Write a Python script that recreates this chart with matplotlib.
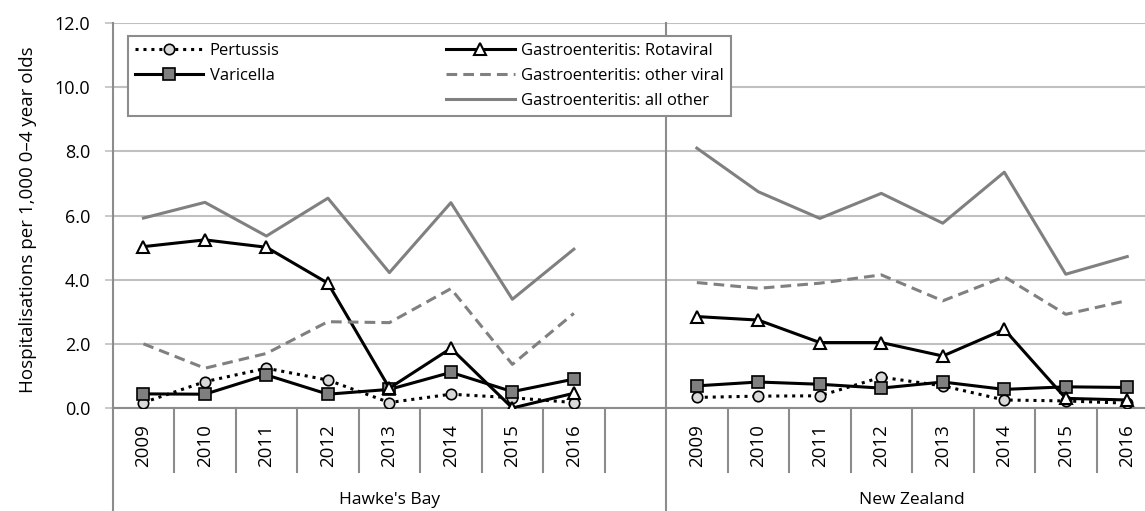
import matplotlib
matplotlib.use("Agg")
from matplotlib import pyplot
from matplotlib.lines import Line2D
import matplotlib.transforms as mtransforms
import numpy as np

pyplot.rcParams['font.family'] = ['Open Sans', 'DejaVu Sans']

# hospitalisation rates per 1,000 0-4 year olds, 2009-2016
years = ['2009', '2010', '2011', '2012', '2013', '2014', '2015', '2016']
regions = ["Hawke's Bay", 'New Zealand']

hb_pertussis = [0.17, 0.82, 1.24, 0.87, 0.17, 0.43, 0.32, 0.17]
hb_varicella = [0.44, 0.43, 1.03, 0.43, 0.58, 1.11, 0.51, 0.90]
hb_rotaviral = [5.03, 5.24, 5.01, 3.89, 0.62, 1.86, 0.00, 0.46]
hb_other_viral = [2.00, 1.24, 1.70, 2.69, 2.66, 3.72, 1.36, 2.95]
hb_all_other = [5.92, 6.41, 5.36, 6.54, 4.22, 6.40, 3.39, 4.95]

nz_pertussis = [0.33, 0.37, 0.38, 0.96, 0.69, 0.25, 0.22, 0.15]
nz_varicella = [0.69, 0.81, 0.74, 0.62, 0.81, 0.58, 0.66, 0.64]
nz_rotaviral = [2.85, 2.74, 2.04, 2.04, 1.62, 2.45, 0.30, 0.25]
nz_other_viral = [3.91, 3.73, 3.89, 4.15, 3.34, 4.09, 2.92, 3.35]
nz_all_other = [8.10, 6.74, 5.91, 6.69, 5.76, 7.35, 4.17, 4.72]

W, H = 1145, 511
fig = pyplot.figure(figsize=(W / 100, H / 100), dpi=100)
x0, x1, y0, y1 = 112.7, 1158.0, 408.0, 23.0
ax = fig.add_axes([x0 / W, 1 - y0 / H, (x1 - x0) / W, (y0 - y1) / H])

n = len(years)
hb_x = np.arange(n)
nz_x = np.arange(n) + n + 1

axis_grey = '#8c8c8c'
grid_grey = '#c0c0c0'
line_grey = '#808080'

series = [
    ('Pertussis', hb_pertussis, nz_pertussis,
     dict(color='black', ls=(0, (1, 1.6)), lw=2.2, marker='o', ms=7.5,
          mfc='#d9d9d9', mec='black', mew=1.2)),
    ('Varicella', hb_varicella, nz_varicella,
     dict(color='black', ls='-', lw=2.2, marker='s', ms=8,
          mfc='#7f7f7f', mec='black', mew=1.2)),
    ('Gastroenteritis: Rotaviral', hb_rotaviral, nz_rotaviral,
     dict(color='black', ls='-', lw=2.2, marker='^', ms=9,
          mfc='white', mec='black', mew=1.5)),
    ('Gastroenteritis: other viral', hb_other_viral, nz_other_viral,
     dict(color=line_grey, ls=(0, (3.5, 2)), lw=2.2, marker=None)),
    ('Gastroenteritis: all other', hb_all_other, nz_all_other,
     dict(color=line_grey, ls='-', lw=2.2, marker=None)),
]

handles = {}
order = [4, 3, 1, 0, 2]
for i in order:
    name, hb, nz, style = series[i]
    ax.plot(hb_x, hb, zorder=3 + i, **style)
    ln, = ax.plot(nz_x, nz, zorder=3 + i, **style)
    handles[name] = ln

ax.set_xlim(-0.5, 2 * n + 0.5)
ax.set_ylim(0, 12)
ax.set_yticks(np.arange(0, 12.1, 2))
ax.set_yticklabels(['%.1f' % v for v in np.arange(0, 12.1, 2)])
ax.tick_params(axis='y', length=6, width=1.2, color=grid_grey, pad=10,
               labelsize=13)
ax.set_xticks([])
ax.grid(axis='y', color=grid_grey, lw=1.5)
ax.set_axisbelow(True)
for s in ['top', 'right', 'left']:
    ax.spines[s].set_visible(False)
ax.spines['bottom'].set_color(axis_grey)
ax.spines['bottom'].set_linewidth(1.5)

ax.set_ylabel('Hospitalisations per 1,000 0\u20134 year olds', fontsize=13.5)
ax.yaxis.set_label_coords(-0.072, 0.49)

# category axis: year labels, dividers and group labels below the plot
trans = mtransforms.blended_transform_factory(ax.transData, ax.transAxes)
ph = y0 - y1
tick_bottom = -(472 - y0) / ph
fig_bottom = -(H - y0) / ph
year_y = -(446 - y0) / ph
group_y = -(500 - y0) / ph

for k in range(2 * n):
    if k == n:
        continue
    ax.plot([k + 0.5, k + 0.5], [0, tick_bottom], color=axis_grey, lw=1.5,
            transform=trans, clip_on=False)
for xs in [-0.5, n + 0.5, 2 * n + 0.5]:
    ax.plot([xs, xs], [1, fig_bottom], color=axis_grey, lw=1.5,
            transform=trans, clip_on=False)

for xs in list(hb_x) + list(nz_x):
    ax.text(xs, year_y, years[xs % (n + 1)], rotation=90, ha='center',
            va='center', fontsize=13.5, transform=trans)
ax.text(n / 2, group_y, regions[0], ha='center', va='center', fontsize=12.5,
        transform=trans)
ax.text((n + 0.5 + 2 * n + 0.5) / 2, group_y, regions[1], ha='center',
        va='center', fontsize=12.5, transform=trans)

blank = Line2D([], [], color='none')
leg_handles = [handles['Pertussis'], handles['Varicella'], blank,
               handles['Gastroenteritis: Rotaviral'],
               handles['Gastroenteritis: other viral'],
               handles['Gastroenteritis: all other']]
leg_labels = ['Pertussis', 'Varicella', '',
              'Gastroenteritis: Rotaviral', 'Gastroenteritis: other viral',
              'Gastroenteritis: all other']
leg = ax.legend(leg_handles, leg_labels, ncol=2, loc='upper left',
                bbox_to_anchor=((128 - x0) / (x1 - x0), (y0 - 36) / ph),
                frameon=True, fancybox=False, edgecolor=axis_grey,
                framealpha=1, fontsize=12, handlelength=4.1,
                handletextpad=0.4, columnspacing=10.0, labelspacing=0.55,
                borderpad=0.4, borderaxespad=0)
leg.get_frame().set_linewidth(1.5)
leg.set_zorder(20)

pyplot.savefig('out.png', dpi=100)
